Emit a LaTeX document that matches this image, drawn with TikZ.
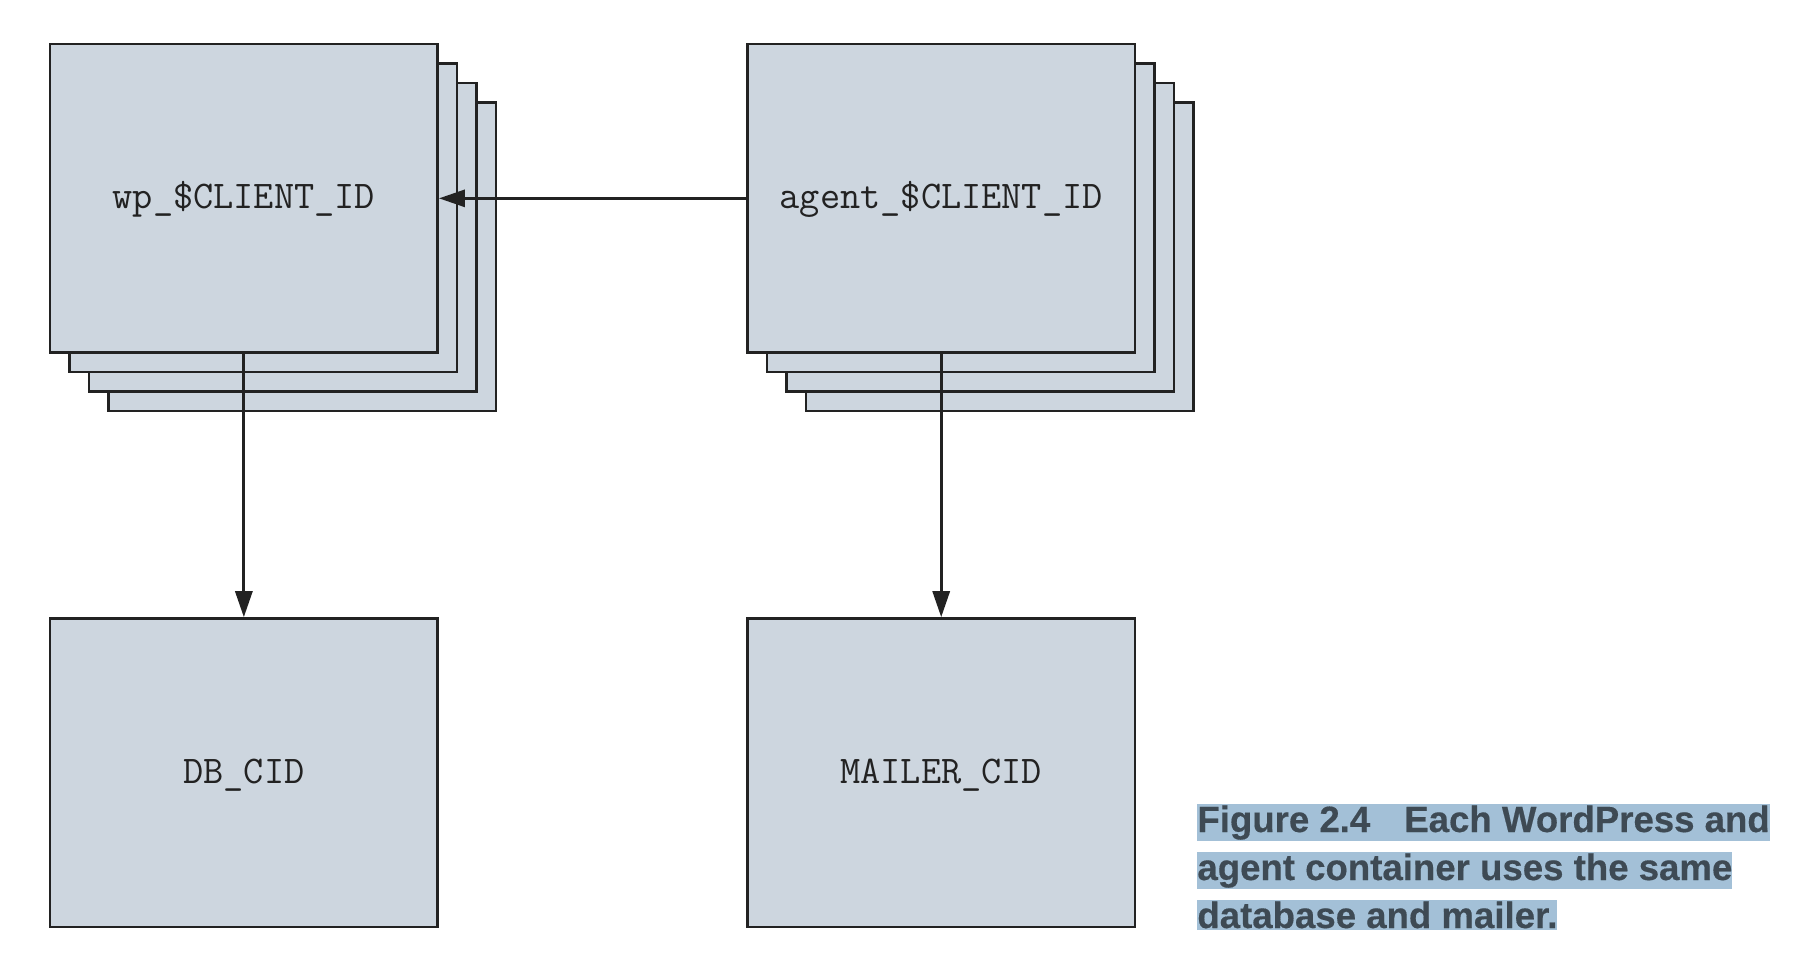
\documentclass[tikz,border=0pt]{standalone}
\usepackage{fontspec}
\setmainfont{Liberation Sans}
\newfontfamily\capfont{Liberation Sans Bold}[FakeBold=0.4]
\usetikzlibrary{arrows.meta}
\definecolor{boxfill}{HTML}{CDD6DF}
\definecolor{boxline}{HTML}{222222}
\definecolor{captext}{HTML}{3E4A54}
\definecolor{hl}{HTML}{A3C0D7}
\begin{document}
\begin{tikzpicture}[x=0.5pt,y=-0.5pt,
  container/.style={draw=boxline, fill=boxfill, line width=1.25pt,
    minimum width=193.85pt, minimum height=154.35pt, inner sep=0pt,
    font=\ttfamily\fontsize{19.6}{22}\selectfont, text=boxline,
    text height=10.5pt, text depth=0pt},
  conn/.style={draw=boxline, line width=1.5pt, -{Triangle[length=13pt,width=8.5pt]}},
  captionline/.style={fill=hl, text=captext, inner xsep=0pt, inner ysep=0.6pt,
    font=\capfont\fontsize{18.3}{24}\selectfont, anchor=base west}]
\useasboundingbox (0,0) rectangle (1802,972);
% stacked back boxes
\foreach \k in {3,2,1}{
  \node[container] (wpback\k) at ({243.85+19.5*\k},{198.35+19.5*\k}) {};
  \node[container] (agentback\k) at ({941.2+19.5*\k},{198.35+19.5*\k}) {};
}
\node[container] (wp) at (243.85,198.35) {wp\_\$CLIENT\_ID};
\node[container] (agent) at (941.2,198.35) {agent\_\$CLIENT\_ID};
\node[container] (db) at (243.85,772.8) {DB\_CID};
\node[container] (mailer) at (941.2,772.8) {MAILER\_CID};
\draw[conn] (agent.west) -- (wp.east);
\draw[conn] (wp.south) -- (db.north);
\draw[conn] (agent.south) -- (mailer.north);
\node[captionline] (cap1) at (1197,832) {Figure 2.4\hspace{17pt}Each WordPress and};
\node[captionline] (cap2) at (1197,880) {agent container uses the same};
\node[captionline] (cap3) at (1197,928) {database and mailer.};
\end{tikzpicture}
\end{document}
